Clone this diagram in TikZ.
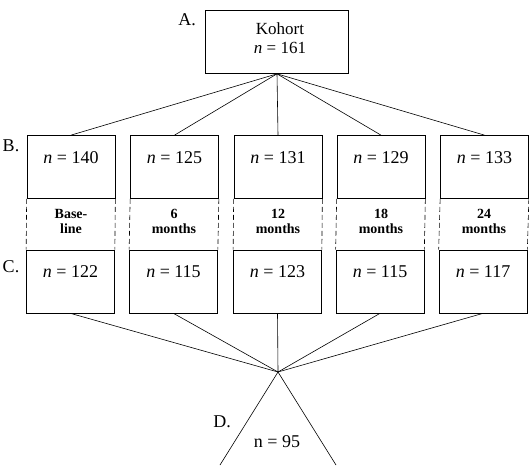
\documentclass[tikz,border=0pt]{standalone}
\usepackage{fontspec}
\setmainfont{Liberation Serif}
\begin{document}
\begin{tikzpicture}[x=1pt,y=-1pt,
  box/.style={draw,line width=0.7pt,minimum width=88pt,minimum height=63pt,inner sep=0pt},
  num/.style={font=\fontsize{18}{20}\selectfont,inner sep=0pt},
  per/.style={font=\bfseries\fontsize{14}{15}\selectfont,align=center,inner sep=0pt},
  lbl/.style={font=\fontsize{18}{20}\selectfont,inner sep=0pt},
  conn/.style={line width=0.6pt},
  dsh/.style={line width=0.6pt,dash pattern=on 5pt off 3pt}]
\useasboundingbox (0,0) rectangle (529,465);
\node[box,minimum width=143pt,minimum height=63pt] (k) at (277,42) {};
\node[align=center,font=\fontsize{17}{19}\selectfont,inner sep=0pt] (kt) at (280,38) {Kohort\\\textit{n} = 161};
\node[lbl] (la) at (187,20) {A.};
\node[lbl] (lb) at (11,146) {B.};
\node[lbl] (lc) at (11,267) {C.};
% B boxes
\foreach \i/\x/\t in {1/71/140,2/174.5/125,3/278/131,4/381/129,5/484.5/133}{
  \node[box] (b\i) at (\x,167) {};
  \node[num] (bt\i) at (\x,158) {\textit{n} = \t};
}
% C boxes
\foreach \i/\x/\t in {1/70.5/122,2/173.5/115,3/277.5/123,4/380/115,5/483/117}{
  \node[box] (c\i) at (\x,281.5) {};
  \node[num] (ct\i) at (\x,272) {\textit{n} = \t};
}
% period labels
\node[per] (p1) at (71,221) {Base-\\line};
\node[per] (p2) at (174,221) {6\\months};
\node[per] (p3) at (278,221) {12\\months};
\node[per] (p4) at (381,221) {18\\months};
\node[per] (p5) at (484,221) {24\\months};
% dashed edges
\foreach \i in {1,...,5}{
  \draw[dsh] (b\i.south west) -- (c\i.north west);
  \draw[dsh] (b\i.south east) -- (c\i.north east);
}
% connectors from cohort
\foreach \i in {1,...,5}{
  \draw[conn] (k.south) -- (b\i.north);
}
% convergence
\coordinate (apex) at (278,372);
\foreach \i in {1,...,5}{
  \draw[conn] (c\i.south) -- (apex);
}
\coordinate (dl) at (220,465);
\coordinate (dr) at (336,465);
\draw[conn] (dl) -- (apex) -- (dr);
\node[lbl] (ld) at (222,422) {D.};
\node[lbl] (dn) at (277,442) {n = 95};
\end{tikzpicture}
\end{document}
